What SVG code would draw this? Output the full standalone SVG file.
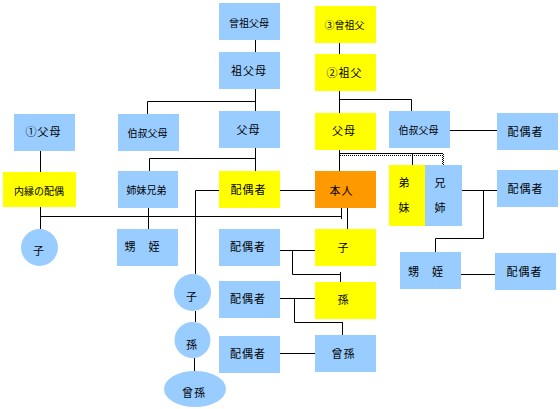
<svg xmlns="http://www.w3.org/2000/svg" width="560" height="409" viewBox="0 0 560 409">
<style>
.b{fill:#99ccff}
.y{fill:#ffff00}
.o{fill:#ff9900}
text{font-family:"Noto Sans CJK JP","Noto Sans CJK SC",sans-serif;font-size:10px;fill:#000;text-anchor:middle;dominant-baseline:central}
.m{font-size:11px;letter-spacing:1px}
.c line,.c path{stroke:#000;stroke-width:1;fill:none}
.c .d{stroke-dasharray:1 1}
</style>
<rect width="560" height="409" fill="#fff"/>
<g class="c" id="connectors">
<path d="M255.5 40V52M255.5 89V111M147.5 101.5H255.5M147.5 101.5V114"/>
<path d="M255.5 148V171M149.5 158.5H255.5M149.5 158.5V171"/>
<path d="M40.5 151V172M40.5 207V229M40.5 216.5H341.5M341.5 208V219"/>
<path d="M148.5 208V229"/>
<path d="M195.5 190.5H219M195.5 190.5V274"/>
<path d="M280 190.5H315"/>
<path d="M347.5 208V229"/>
<path d="M339.5 43V54M339.5 91V113M339.5 99.5H411.5M411.5 99.5V111"/>
<path d="M450 130.5H497"/>
<path d="M339.5 150V171M339.5 153.5H443M412.5 153.5V165"/>
<path class="d" d="M340 155.5H443M443.5 154V165M442.5 155V165"/>
<path d="M462 190.5H497M483.5 190.5V238.5M435.5 238.5H483.5M435.5 238.5V252"/>
<path d="M461 274.5H495"/>
<path d="M280 250.5H315M292.5 250.5V274.5M292.5 274.5H340.5M340.5 272V282"/>
<path d="M280 298.5H315M294.5 298.5V322.5M294.5 322.5H342.5M342.5 322V335"/>
<path d="M280 353.5H315"/>
<path d="M195.5 311V322M194.5 358V371"/>
</g>
<g id="n1"><rect class="b" x="219" y="3" width="61" height="37"/><text x="249" y="22">曾祖父母</text></g>
<g id="n2"><rect class="b" x="219" y="52" width="61" height="37"/><text class="m" x="249" y="70">祖父母</text></g>
<g id="n3"><rect class="b" x="219" y="111" width="61" height="37"/><text class="m" x="248.5" y="129">父母</text></g>
<g id="n4"><rect class="b" x="14" y="114" width="61" height="37"/><text class="m" x="43.5" y="131">①父母</text></g>
<g id="n5"><rect class="b" x="118" y="114" width="61" height="37"/><text x="147.5" y="132">伯叔父母</text></g>
<g id="n6"><rect class="y" x="3" y="172" width="73" height="35"/><text x="39" y="190">内縁の配偶</text></g>
<g id="n7"><rect class="b" x="118" y="171" width="60" height="37"/><text x="146.5" y="189">姉妹兄弟</text></g>
<g id="n8"><rect class="y" x="219" y="171" width="61" height="37"/><text class="m" x="248.5" y="189">配偶者</text></g>
<g id="n9"><rect class="y" x="315" y="6" width="61" height="37"/><text x="344.5" y="24">③曾祖父</text></g>
<g id="n10"><rect class="y" x="315" y="54" width="61" height="37"/><text class="m" x="344.5" y="72">②祖父</text></g>
<g id="n11"><rect class="y" x="315" y="113" width="61" height="37"/><text class="m" x="344" y="130">父母</text></g>
<g id="n12"><rect class="b" x="389" y="111" width="61" height="37"/><text x="418.5" y="129">伯叔父母</text></g>
<g id="n13"><rect class="b" x="497" y="113" width="61" height="37"/><text class="m" x="525.5" y="131">配偶者</text></g>
<g id="n14"><rect class="o" x="315" y="171" width="61" height="37"/><text class="m" x="341.5" y="190">本人</text></g>
<g id="n15"><rect class="y" x="389" y="165" width="36" height="61"/><text class="m" x="404.5" y="182">弟</text><text class="m" x="404.5" y="207">妹</text></g>
<g id="n16"><rect class="b" x="425" y="165" width="37" height="61"/><text class="m" x="440.5" y="182">兄</text><text class="m" x="440.5" y="207">姉</text></g>
<g id="n17"><rect class="b" x="497" y="170" width="61" height="37"/><text class="m" x="525.5" y="188">配偶者</text></g>
<g id="n18"><rect class="b" x="400" y="252" width="61" height="37"/><text class="m" x="426" y="271">甥　姪</text></g>
<g id="n19"><rect class="b" x="495" y="253" width="61" height="37"/><text class="m" x="524.5" y="271">配偶者</text></g>
<g id="n20"><circle class="b" cx="39.5" cy="247.5" r="18.5"/><text class="m" x="39" y="250">子</text></g>
<g id="n21"><rect class="b" x="117" y="229" width="61" height="37"/><text class="m" x="142.5" y="246">甥　姪</text></g>
<g id="n22"><rect class="b" x="219" y="229" width="61" height="37"/><text class="m" x="248" y="246">配偶者</text></g>
<g id="n23"><rect class="y" x="315" y="229" width="61" height="37"/><text class="m" x="343.5" y="247">子</text></g>
<g id="n24"><rect class="b" x="219" y="281" width="61" height="37"/><text class="m" x="248" y="298">配偶者</text></g>
<g id="n25"><rect class="y" x="315" y="282" width="61" height="37"/><text class="m" x="343.5" y="299">孫</text></g>
<g id="n26"><rect class="b" x="219" y="336" width="61" height="37"/><text class="m" x="248" y="353">配偶者</text></g>
<g id="n27"><rect class="b" x="315" y="335" width="61" height="37"/><text class="m" x="343.5" y="353">曾孫</text></g>
<g id="n28"><circle class="b" cx="192.5" cy="292.5" r="18.5"/><text class="m" x="192" y="296">子</text></g>
<g id="n29"><circle class="b" cx="192.5" cy="340" r="18"/><text class="m" x="192" y="344">孫</text></g>
<g id="n30"><ellipse class="b" cx="195" cy="389" rx="31" ry="18"/><text class="m" x="194" y="392">曾孫</text></g>
</svg>
